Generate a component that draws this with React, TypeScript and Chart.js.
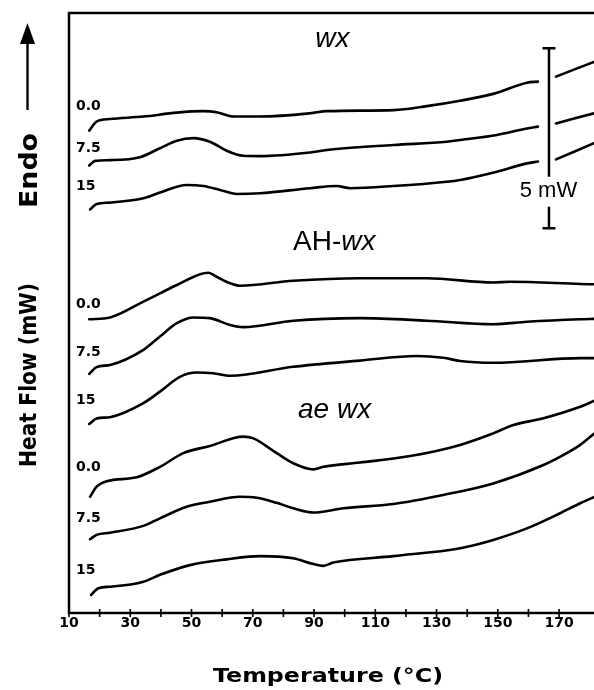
import React, { useEffect, useRef } from "react";
import { Chart, registerables } from "chart.js";
Chart.register(...registerables);

// ---- data (temperature in °C, heat flow in mW, offsets as plotted) ----
const wx0Temp = [16.6, 19.0, 23.4, 34.3, 45.2, 53.9, 58.2, 63.7, 72.4, 88.7, 94.2, 115.9, 126.8, 137.7, 148.5, 159.5, 163.1, 166.0, 169.0, 181.4];
const wx0Flow = [13.40, 13.65, 13.72, 13.79, 13.90, 13.94, 13.91, 13.79, 13.79, 13.88, 13.94, 13.97, 14.08, 14.23, 14.42, 14.73, 14.76, null, 14.90, 15.31];

const wx75Temp = [16.6, 18.5, 23.4, 33.2, 39.7, 45.2, 50.6, 56.0, 61.5, 66.9, 72.4, 88.7, 94.2, 115.9, 133.3, 137.7, 149.7, 159.5, 163.1, 166.0, 169.0, 181.4];
const wx75Flow = [12.43, 12.56, 12.58, 12.66, 12.91, 13.12, 13.19, 13.09, 12.84, 12.70, 12.69, 12.79, 12.86, 13.00, 13.09, 13.14, 13.28, 13.46, 13.51, null, 13.60, 13.88];

const wx15Temp = [16.9, 19.0, 23.4, 34.3, 39.7, 48.4, 53.9, 59.3, 64.8, 72.4, 88.7, 97.4, 101.8, 115.9, 133.3, 137.7, 149.7, 159.5, 163.1, 166.0, 169.0, 181.4];
const wx15Flow = [11.21, 11.36, 11.40, 11.52, 11.68, 11.89, 11.86, 11.75, 11.64, 11.66, 11.80, 11.86, 11.80, 11.86, 11.98, 12.03, 12.26, 12.49, 12.54, null, 12.60, 13.05];

const ah0Temp = [16.6, 23.4, 34.3, 45.2, 52.8, 55.5, 58.2, 62.6, 65.8, 83.2, 105.0, 126.8, 148.5, 154.0, 176.9, 181.4];
const ah0Flow = [8.16, 8.21, 8.65, 9.11, 9.41, 9.45, 9.34, 9.16, 9.09, 9.23, 9.30, 9.30, 9.18, 9.20, 9.14, 9.13];

const ah75Temp = [16.6, 19.0, 23.4, 34.3, 39.7, 45.2, 50.6, 56.0, 62.6, 66.9, 83.2, 105.0, 126.8, 148.5, 159.5, 176.9, 181.4];
const ah75Flow = [6.64, 6.83, 6.89, 7.31, 7.68, 8.05, 8.21, 8.19, 8.00, 7.94, 8.12, 8.19, 8.12, 8.02, 8.09, 8.16, 8.17];

const ah15Temp = [16.6, 19.0, 23.4, 34.3, 39.7, 46.2, 51.7, 57.1, 62.6, 83.2, 105.0, 123.5, 132.2, 137.7, 148.5, 176.9, 181.4];
const ah15Flow = [5.25, 5.40, 5.44, 5.83, 6.15, 6.56, 6.68, 6.66, 6.59, 6.84, 7.01, 7.14, 7.09, 7.00, 6.95, 7.08, 7.08];

const ae0Temp = [16.9, 19.0, 22.3, 32.1, 39.7, 47.3, 56.0, 66.9, 70.2, 77.8, 83.2, 89.8, 93.0, 105.0, 121.4, 137.7, 148.5, 155.1, 164.9, 176.9, 181.4];
const ae0Flow = [3.23, 3.51, 3.66, 3.77, 4.06, 4.44, 4.64, 4.90, 4.85, 4.44, 4.16, 3.99, 4.06, 4.18, 4.36, 4.67, 4.99, 5.22, 5.41, 5.73, 5.89];

const ae75Temp = [16.9, 19.0, 23.4, 34.3, 39.7, 48.4, 56.0, 65.8, 71.3, 77.8, 83.2, 89.8, 99.6, 115.9, 132.2, 148.5, 164.9, 172.5, 176.9, 181.4];
const ae75Flow = [2.05, 2.17, 2.23, 2.42, 2.63, 2.95, 3.09, 3.23, 3.20, 3.06, 2.91, 2.79, 2.91, 3.03, 3.28, 3.60, 4.11, 4.44, 4.67, 4.98];

const ae15Temp = [17.2, 19.6, 23.4, 34.3, 39.7, 49.5, 61.5, 72.4, 83.2, 89.8, 93.0, 96.3, 115.9, 137.7, 148.5, 159.5, 170.3, 176.9, 181.4];
const ae15Flow = [0.50, 0.69, 0.73, 0.87, 1.06, 1.33, 1.49, 1.58, 1.52, 1.36, 1.31, 1.40, 1.58, 1.80, 2.03, 2.35, 2.77, 3.05, 3.22];

// curve labels (moisture content) and where they sit (°C, mW of baseline)
const curveLabels = ["0.0", "7.5", "15", "0.0", "7.5", "15", "0.0", "7.5", "15"];
const curveLabelTemp = 12.3;
const curveLabelFlow = [13.97, 12.81, 11.75, 8.46, 7.15, 5.81, 3.95, 2.54, 1.08];

// group labels: [plain prefix, italic part]
const groupPrefix = ["", "AH-", ""];
const groupItalic = ["wx", "wx", "ae wx"];
const groupTemp = [96.0, 96.6, 96.7];
const groupFlow = [15.71, 10.08, 5.43];

// scale bar
const scaleBarTemp = 166.7;
const scaleBarTop = 15.69;
const scaleBarSize = 5; // mW
const scaleBarLabel = "5 mW";

// x axis ticks
const xTickValues = [10, 20, 30, 40, 50, 60, 70, 80, 90, 100, 110, 120, 130, 140, 150, 160, 170];
const xTickLabels = ["10", "", "30", "", "50", "", "70", "", "90", "", "110", "", "130", "", "150", "", "170"];
const xTitle = "Temperature (°C)";
const yTitle = "Heat Flow (mW)";
const yEndo = "Endo";

const series = [
  [wx0Temp, wx0Flow], [wx75Temp, wx75Flow], [wx15Temp, wx15Flow],
  [ah0Temp, ah0Flow], [ah75Temp, ah75Flow], [ah15Temp, ah15Flow],
  [ae0Temp, ae0Flow], [ae75Temp, ae75Flow], [ae15Temp, ae15Flow],
] as [number[], (number | null)[]][];

type Seg = [string, string];
function drawSegs(ctx: CanvasRenderingContext2D, segs: Seg[], cx: number, baseline: number, targetW?: number, rotate?: boolean) {
  const widths = segs.map(([t, f]) => { ctx.font = f; return ctx.measureText(t).width; });
  const total = widths.reduce((a, b) => a + b, 0);
  const sx = targetW ? targetW / total : 1;
  ctx.save();
  if (rotate) {
    ctx.translate(baseline, cx);
    ctx.rotate(-Math.PI / 2);
  } else {
    ctx.translate(cx, baseline);
  }
  ctx.scale(sx, 1);
  ctx.textAlign = "left";
  ctx.textBaseline = "alphabetic";
  ctx.fillStyle = "#000";
  let xx = -total / 2;
  segs.forEach(([t, f], i) => { ctx.font = f; ctx.fillText(t, xx, 0); xx += widths[i]; });
  ctx.restore();
}

const annotations = {
  id: "annotations",
  afterDraw(chart: any) {
    const { ctx, chartArea: ca, scales } = chart;
    const x = scales.x, y = scales.y;
    ctx.save();
    ctx.strokeStyle = "#000";
    ctx.fillStyle = "#000";
    // frame
    ctx.lineWidth = 2.5;
    ctx.beginPath();
    ctx.moveTo(ca.left, ca.bottom + 1);
    ctx.lineTo(ca.left, ca.top);
    ctx.lineTo(ca.right, ca.top);
    ctx.stroke();
    ctx.beginPath();
    ctx.moveTo(ca.left - 1, ca.bottom);
    ctx.lineTo(ca.right, ca.bottom);
    ctx.stroke();
    // crossing ticks
    ctx.lineWidth = 1.6;
    ctx.beginPath();
    xTickValues.forEach((v) => {
      const px = x.getPixelForValue(v);
      ctx.moveTo(px, ca.bottom - 4);
      ctx.lineTo(px, ca.bottom + 4);
    });
    ctx.stroke();

    // curve labels
    curveLabels.forEach((lab, i) => {
      ctx.font = "bold 14px 'DejaVu Sans'";
      ctx.textAlign = "left";
      ctx.textBaseline = "alphabetic";
      ctx.fillText(lab, x.getPixelForValue(curveLabelTemp), y.getPixelForValue(curveLabelFlow[i]));
    });

    // group labels
    groupItalic.forEach((it, i) => {
      const segs: Seg[] = [];
      if (groupPrefix[i]) segs.push([groupPrefix[i], "28px 'Liberation Sans'"]);
      segs.push([it, "italic 28px 'Liberation Sans'"]);
      drawSegs(ctx, segs, x.getPixelForValue(groupTemp[i]), y.getPixelForValue(groupFlow[i]));
    });

    // scale bar
    const bx = x.getPixelForValue(scaleBarTemp);
    const by0 = y.getPixelForValue(scaleBarTop);
    const by1 = y.getPixelForValue(scaleBarTop - scaleBarSize);
    const labelBase = by0 + (by1 - by0) * 0.826;
    ctx.lineWidth = 2.5;
    ctx.beginPath();
    ctx.moveTo(bx, by0); ctx.lineTo(bx, labelBase - 20);
    ctx.moveTo(bx, labelBase + 10); ctx.lineTo(bx, by1);
    ctx.moveTo(bx - 6.5, by0); ctx.lineTo(bx + 6.5, by0);
    ctx.moveTo(bx - 6.5, by1); ctx.lineTo(bx + 6.5, by1);
    ctx.stroke();
    drawSegs(ctx, [[scaleBarLabel, "22px 'Liberation Sans'"]], bx - 0.5, labelBase);

    // x title
    drawSegs(ctx, [[xTitle, "bold 20px 'DejaVu Sans'"]], (ca.left + ca.right) / 2 - 3.5, ca.bottom + 68.7, 230);

    // y title, Endo and arrow (rotated)
    const tx = ca.left - 33.5;
    drawSegs(ctx, [[yTitle, "bold 23px 'DejaVu Sans'"]], ca.top + 362, tx, 184, true);
    drawSegs(ctx, [[yEndo, "bold 25px 'DejaVu Sans'"]], ca.top + 157.5, tx + 1, 75, true);
    const ax = ca.left - 41.5;
    ctx.lineWidth = 2.4;
    ctx.beginPath();
    ctx.moveTo(ax, ca.top + 97);
    ctx.lineTo(ax, ca.top + 28);
    ctx.stroke();
    ctx.beginPath();
    ctx.moveTo(ax, ca.top + 10);
    ctx.lineTo(ax - 7.5, ca.top + 31);
    ctx.lineTo(ax + 7.5, ca.top + 31);
    ctx.closePath();
    ctx.fill();
    ctx.restore();
  },
};

export default function App() {
  const ref = useRef<HTMLCanvasElement>(null);
  useEffect(() => {
    document.body.style.margin = "0";
    const chart = new Chart(ref.current as HTMLCanvasElement, {
      type: "line",
      data: {
        datasets: series.map(([t, f]) => ({
          data: t.map((v, i) => ({ x: v, y: f[i] })),
          borderColor: "#000",
          borderWidth: 2.6,
          borderCapStyle: "round",
          pointRadius: 0,
          fill: false,
          spanGaps: false,
          cubicInterpolationMode: "monotone",
        })) as any,
      },
      options: {
        animation: false,
        responsive: false,
        devicePixelRatio: 1,
        layout: { padding: { left: 69, top: 13, right: 0, bottom: 0 } },
        plugins: { legend: { display: false }, tooltip: { enabled: false } },
        scales: {
          x: {
            type: "linear",
            min: 10,
            max: 181.4,
            afterBuildTicks: (s: any) => { s.ticks = xTickValues.map((v) => ({ value: v })); },
            afterFit: (s: any) => { s.height = 77; },
            grid: { display: false, drawTicks: false, tickLength: 0 },
            border: { display: false },
            ticks: {
              autoSkip: false,
              maxRotation: 0,
              padding: 2,
              color: "#000",
              font: { family: "'DejaVu Sans'", weight: "bold", size: 14 },
              callback: (_v: any, i: number) => xTickLabels[i],
            },
          },
          y: { type: "linear", display: false, min: 0, max: 600 / 36 },
        },
      },
      plugins: [annotations],
    });
    return () => chart.destroy();
  }, []);
  return <canvas ref={ref} width={594} height={690} style={{ display: "block" }} />;
}
